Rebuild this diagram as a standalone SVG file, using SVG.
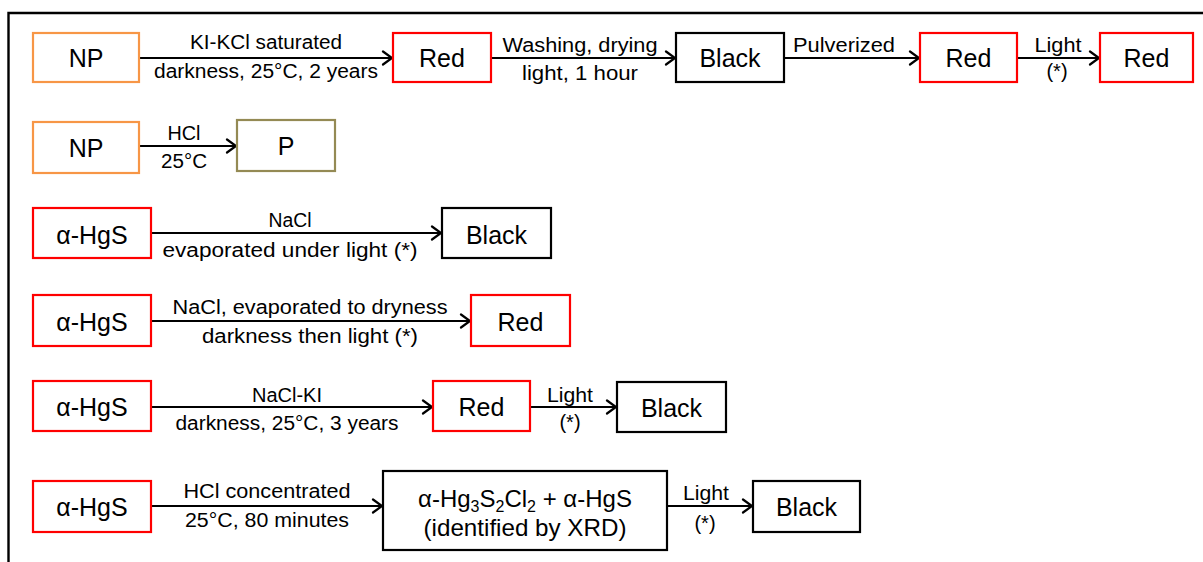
<svg xmlns="http://www.w3.org/2000/svg" width="1203" height="562" viewBox="0 0 1203 562">
<defs>
<marker id="arr" markerUnits="userSpaceOnUse" markerWidth="14" markerHeight="16" viewBox="-12 -8 14 16" refX="0" refY="0" orient="auto">
<path d="M-9,-6.5 L0,0 L-9,6.5" fill="none" stroke="#000" stroke-width="2.2" stroke-linecap="round" stroke-linejoin="miter"/>
</marker>
</defs>
<style>
text{font-family:"Liberation Sans",Arial,sans-serif;fill:#000}
.n{font-size:25px;text-anchor:middle}
.l{font-size:20px;text-anchor:middle}
.b{fill:#fff;stroke-width:2.2}
.red{stroke:#ff0000}
.blk{stroke:#000}
.org{stroke:#f79646}
.olv{stroke:#948a54}
.c{stroke:#000;stroke-width:2.2;fill:none;marker-end:url(#arr)}
</style>
<rect width="1203" height="562" fill="#fff"/>
<path d="M8.5 562 V13 H1203" fill="none" stroke="#000" stroke-width="2.4"/>

<g id="connectors">
<line class="c" x1="139" y1="58" x2="392" y2="58"/>
<line class="c" x1="491" y1="58" x2="675" y2="58"/>
<line class="c" x1="784" y1="58" x2="919" y2="58"/>
<line class="c" x1="1017" y1="58" x2="1099" y2="58"/>
<line class="c" x1="139" y1="146" x2="236" y2="146"/>
<line class="c" x1="151" y1="233" x2="441" y2="233"/>
<line class="c" x1="151" y1="321" x2="470" y2="321"/>
<line class="c" x1="151" y1="407" x2="432" y2="407"/>
<line class="c" x1="530" y1="407" x2="616" y2="407"/>
<line class="c" x1="151" y1="506" x2="382" y2="506"/>
<line class="c" x1="667" y1="506" x2="752" y2="506"/>
<text class="l" x="266" y="49" textLength="152" lengthAdjust="spacingAndGlyphs">KI-KCl saturated</text>
<text class="l" x="266" y="78" textLength="224" lengthAdjust="spacingAndGlyphs">darkness, 25°C, 2 years</text>
<text class="l" x="580" y="52" textLength="155" lengthAdjust="spacingAndGlyphs">Washing, drying</text>
<text class="l" x="580" y="80" textLength="116" lengthAdjust="spacingAndGlyphs">light, 1 hour</text>
<text class="l" x="844" y="52" textLength="102" lengthAdjust="spacingAndGlyphs">Pulverized</text>
<text class="l" x="1058" y="52" textLength="47" lengthAdjust="spacingAndGlyphs">Light</text>
<text class="l" x="1057" y="78">(*)</text>
<text class="l" x="184" y="140" textLength="33" lengthAdjust="spacingAndGlyphs">HCl</text>
<text class="l" x="184" y="168" textLength="46" lengthAdjust="spacingAndGlyphs">25°C</text>
<text class="l" x="290" y="227" textLength="43" lengthAdjust="spacingAndGlyphs">NaCl</text>
<text class="l" x="290" y="257" textLength="255" lengthAdjust="spacingAndGlyphs">evaporated under light (*)</text>
<text class="l" x="310" y="314" textLength="275" lengthAdjust="spacingAndGlyphs">NaCl, evaporated to dryness</text>
<text class="l" x="310" y="343" textLength="216" lengthAdjust="spacingAndGlyphs">darkness then light (*)</text>
<text class="l" x="287" y="402" textLength="70" lengthAdjust="spacingAndGlyphs">NaCl-KI</text>
<text class="l" x="287" y="430" textLength="223" lengthAdjust="spacingAndGlyphs">darkness, 25°C, 3 years</text>
<text class="l" x="570" y="402" textLength="46" lengthAdjust="spacingAndGlyphs">Light</text>
<text class="l" x="570" y="429">(*)</text>
<text class="l" x="267" y="498" textLength="167" lengthAdjust="spacingAndGlyphs">HCl concentrated</text>
<text class="l" x="267" y="527" textLength="164" lengthAdjust="spacingAndGlyphs">25°C, 80 minutes</text>
<text class="l" x="706" y="500" textLength="46" lengthAdjust="spacingAndGlyphs">Light</text>
<text class="l" x="705" y="530">(*)</text>
</g>

<g id="n1"><rect class="b org" x="33" y="33" width="106" height="49"/><text class="n" x="86" y="67">NP</text></g>
<g id="n2"><rect class="b red" x="393" y="33" width="98" height="49"/><text class="n" x="442" y="67">Red</text></g>
<g id="n3"><rect class="b blk" x="676" y="33" width="108" height="49"/><text class="n" x="730" y="67">Black</text></g>
<g id="n4"><rect class="b red" x="920" y="33" width="97" height="49"/><text class="n" x="968.5" y="67">Red</text></g>
<g id="n5"><rect class="b red" x="1100" y="33" width="93" height="49"/><text class="n" x="1146.5" y="67">Red</text></g>

<g id="n6"><rect class="b org" x="33" y="122" width="106" height="51"/><text class="n" x="86" y="157">NP</text></g>
<g id="n7"><rect class="b olv" x="237" y="120" width="98" height="51"/><text class="n" x="286" y="155">P</text></g>

<g id="n8"><rect class="b red" x="33" y="208" width="118" height="50"/><text class="n" x="92" y="244">α-HgS</text></g>
<g id="n9"><rect class="b blk" x="442" y="208" width="109" height="50"/><text class="n" x="496.5" y="244">Black</text></g>

<g id="n10"><rect class="b red" x="33" y="295" width="118" height="51"/><text class="n" x="92" y="331">α-HgS</text></g>
<g id="n11"><rect class="b red" x="471" y="295" width="99" height="51"/><text class="n" x="520.5" y="331">Red</text></g>

<g id="n12"><rect class="b red" x="33" y="381" width="118" height="50"/><text class="n" x="92" y="416">α-HgS</text></g>
<g id="n13"><rect class="b red" x="433" y="381" width="97" height="50"/><text class="n" x="481.5" y="416">Red</text></g>
<g id="n14"><rect class="b blk" x="617" y="382" width="109" height="50"/><text class="n" x="671.5" y="417">Black</text></g>

<g id="n15"><rect class="b red" x="33" y="481" width="118" height="51"/><text class="n" x="92" y="516">α-HgS</text></g>
<g id="n16"><rect class="b blk" x="383" y="471" width="284" height="79"/>
<text x="525" y="507" font-size="24" text-anchor="middle">α-Hg<tspan font-size="16" dy="5">3</tspan><tspan dy="-5">S</tspan><tspan font-size="16" dy="5">2</tspan><tspan dy="-5">Cl</tspan><tspan font-size="16" dy="5">2</tspan><tspan dy="-5"> + α-HgS</tspan></text>
<text x="525" y="536" font-size="24" text-anchor="middle" textLength="203" lengthAdjust="spacingAndGlyphs">(identified by XRD)</text></g>
<g id="n17"><rect class="b blk" x="753" y="481" width="107" height="51"/><text class="n" x="806.5" y="516">Black</text></g>
</svg>
